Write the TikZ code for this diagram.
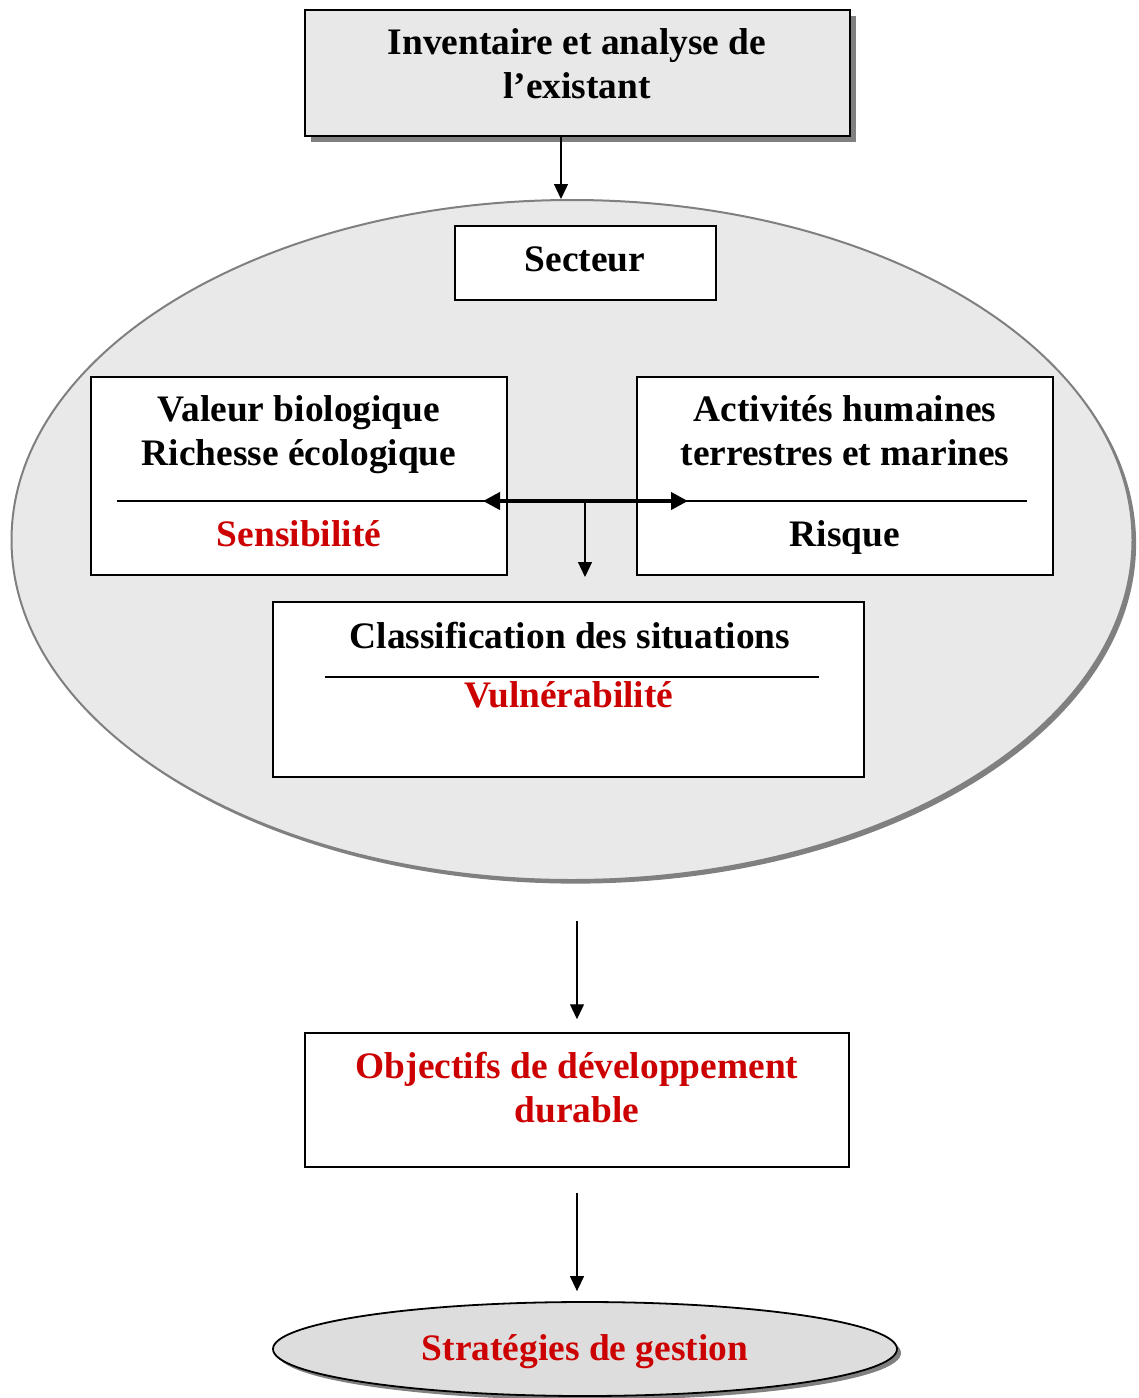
\documentclass[tikz,border=0pt]{standalone}
\usepackage{fontspec}
\setmainfont{Liberation Serif}
\usetikzlibrary{arrows.meta,shadows,shapes.geometric}
\definecolor{redtxt}{HTML}{CC0000}
\definecolor{boxgray}{HTML}{E8E8E8}
\definecolor{ellgray}{HTML}{E9E9E9}
\definecolor{stratgray}{HTML}{DDDDDD}
\definecolor{shadowgray}{HTML}{808080}
\begin{document}
\begin{tikzpicture}[x=0.5pt,y=-0.5pt,
  every node/.style={font=\bfseries\fontsize{18.7}{22}\selectfont, align=center, inner sep=0pt},
  wbox/.style={draw=black, line width=0.75pt, fill=white, rectangle},
  txtred/.style={text=redtxt},
  arr/.style={line width=0.6pt, -{Triangle[length=7.5pt,width=7pt]}},
  darr/.style={line width=2pt, {Triangle[length=8.5pt,width=8.5pt]}-{Triangle[length=8.5pt,width=8.5pt]}},
  sepline/.style={line width=0.6pt}]
\useasboundingbox (0,0) rectangle (1139,1398);

% big ellipse
\node[ellipse, draw=shadowgray, line width=1pt, fill=ellgray, minimum width=560.5pt, minimum height=340pt,
  drop shadow={shadow xshift=1.8pt, shadow yshift=-1.8pt, fill=shadowgray, opacity=1}] (ell) at (572,540) {};

% top box
\node[rectangle, draw=black, line width=1pt, fill=boxgray, minimum width=272.5pt, minimum height=63pt,
  drop shadow={shadow xshift=3pt, shadow yshift=-3pt, fill=shadowgray, opacity=1}] (inv) at (577.5,73) {};
\node (invt) at (577,64) {Inventaire et analyse de\\l’existant};
\draw[arr] ([xshift=-8.25pt]inv.south) -- ([xshift=-8.25pt]inv.south |- ell.north);

% secteur
\node[wbox, minimum width=130.5pt, minimum height=37pt] (sec) at (585.5,263) {};
\node (sect) at (585,259) {Secteur};

% left box
\node[wbox, minimum width=208pt, minimum height=99pt] (lb) at (299,476) {};
\node (lbt) at (299,435) {Valeur biologique\\Richesse écologique};
\node[txtred] (lbs) at (299,534) {Sensibilité};
\draw[sepline] (117,501) -- (490,501);

% right box
\node[wbox, minimum width=208pt, minimum height=99pt] (rb) at (845,476) {};
\node (rbt) at (845,431) {Activités humaines\\terrestres et marines};
\node (rbs) at (845,537) {Risque};
\draw[sepline] (680,501) -- (1027,501);

% double arrow and down arrow
\coordinate (da1) at (483,501);
\coordinate (da2) at (688,501);
\coordinate (dmid) at (585,501);
\coordinate (dend) at (585,577);
\draw[darr] (da1) -- (da2);
\draw[arr] (dmid) -- (dend);

% classification box
\node[wbox, minimum width=295.5pt, minimum height=87.5pt] (cls) at (568.5,689.5) {};
\node (clst) at (570,636) {Classification des situations};
\draw[sepline] (325,677) -- (819,677);
\node[txtred] (clsv) at (569,695) {Vulnérabilité};

% objectifs
\node[wbox, minimum width=272pt, minimum height=67pt] (obj) at (577,1100) {};
\node[txtred] (objt) at (577,1088) {Objectifs de développement\\durable};
\draw[arr] ([yshift=-20pt]ell.south -| obj.north) -- ([yshift=6.5pt]obj.north);

% strategies
\node[ellipse, draw=black, line width=0.9pt, fill=stratgray, minimum width=312pt, minimum height=47pt,
  drop shadow={shadow xshift=2pt, shadow yshift=-2pt, fill=shadowgray, opacity=1}] (strat) at (585,1349) {};
\node[txtred] (stratt) at (585,1352) {Stratégies de gestion};
\draw[arr] ([yshift=-12.5pt]obj.south) -- ([yshift=5pt]strat.north -| obj.south);
\end{tikzpicture}
\end{document}
